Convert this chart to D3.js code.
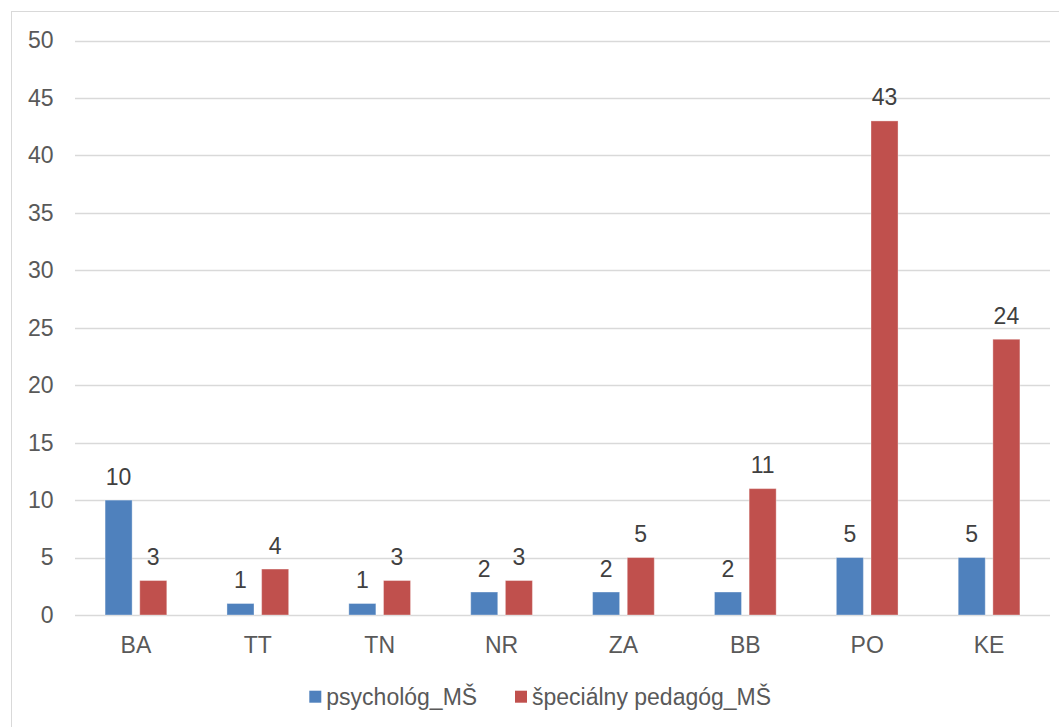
<!DOCTYPE html>
<html><head><meta charset="utf-8">
<script src="https://cdn.jsdelivr.net/npm/d3@7"></script>
<style>body{margin:0;background:#fff}svg{display:block}text{font-family:"Liberation Sans",Arial,sans-serif}</style>
</head><body><svg id="c" width="1059" height="727"></svg>
<script>
const categories = ["BA","TT","TN","NR","ZA","BB","PO","KE"];
const seriesNames = ["psychológ_MŠ","špeciálny pedagóg_MŠ"];
const psycholog = [10,1,1,2,2,2,5,5];
const specialny = [3,4,3,3,5,11,43,24];
const yTicks = [0,5,10,15,20,25,30,35,40,45,50];
const colors = ["#4F81BD","#C0504D"];

const FS = "23px";
const svg = d3.select("#c");
svg.append("rect").attr("x",11.5).attr("y",11.5).attr("width",1100).attr("height",800)
  .attr("fill","none").attr("stroke","#d9d9d9").attr("stroke-width",1);

const m = {l:75, r:1050, t:40.5, b:615};
const x = d3.scaleBand().domain(categories).range([m.l,m.r]);
const y = d3.scaleLinear().domain([0,50]).range([m.b,m.t]);
const x1 = d3.scaleBand().domain([0,1]).range([0,61.7]).paddingInner(0.22);

// grid
svg.append("g").selectAll("line").data(yTicks).join("line")
  .attr("x1",m.l).attr("x2",m.r).attr("y1",d=>Math.round(y(d))+0.5).attr("y2",d=>Math.round(y(d))+0.5)
  .attr("stroke","#d9d9d9").attr("stroke-width",1.5);

// y axis labels
const yAxis = d3.axisLeft(y).tickValues(yTicks).tickSize(0).tickPadding(0);
const ga = svg.append("g").attr("transform",`translate(${53.5},0)`).call(yAxis);
ga.select(".domain").remove();
ga.selectAll("text").attr("fill","#595959").style("font-size",FS).attr("font-family","Liberation Sans, Arial, sans-serif");

// x axis labels
const xAxis = d3.axisBottom(x).tickSize(0).tickPadding(0);
const gx = svg.append("g").attr("transform",`translate(0,${636.5})`).call(xAxis);
gx.select(".domain").remove();
gx.selectAll("text").attr("fill","#595959").style("font-size",FS).attr("font-family","Liberation Sans, Arial, sans-serif");

const data = [psycholog, specialny];
data.forEach((vals,si)=>{
  const g = svg.append("g");
  g.selectAll("rect").data(vals).join("rect")
    .attr("x",(d,i)=>x(categories[i]) + (x.bandwidth()-61.7)/2 + x1(si))
    .attr("width",x1.bandwidth())
    .attr("y",d=>y(d)).attr("height",d=>y(0)-y(d))
    .attr("fill",colors[si]).attr("stroke","#ffffff").attr("stroke-opacity",0.35).attr("stroke-width",1);
  g.selectAll("text").data(vals).join("text")
    .attr("x",(d,i)=>x(categories[i]) + (x.bandwidth()-61.7)/2 + x1(si) + x1.bandwidth()/2)
    .attr("y",d=>y(d)-15.5)
    .attr("text-anchor","middle").attr("fill","#404040").style("font-size",FS)
    .text(d=>d);
});

// legend
const leg = svg.append("g");
const legX = [309.3, 515];
seriesNames.forEach((n,i)=>{
  leg.append("rect").attr("x",legX[i]).attr("y",690.7).attr("width",12).attr("height",12).attr("fill",colors[i]);
  leg.append("text").attr("x",legX[i]+17).attr("y",704.5).attr("fill","#595959").style("font-size",FS).text(n);
});
</script></body></html>
